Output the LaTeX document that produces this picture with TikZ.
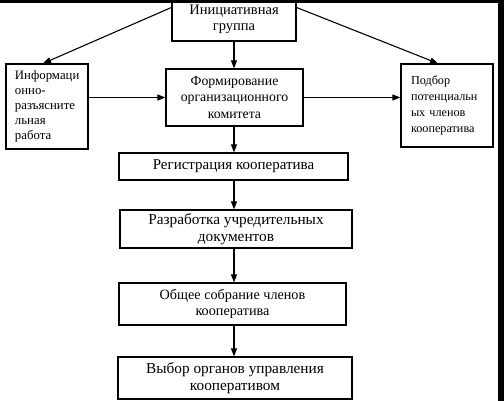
\documentclass[tikz,border=0pt]{standalone}
\usepackage{fontspec}
\setmainfont{Liberation Serif}
\usetikzlibrary{arrows.meta,calc}
\begin{document}
\begin{tikzpicture}[x=1pt,y=-1pt,
  box/.style={draw,line width=1.1pt,rectangle,inner sep=0pt,align=center},
  sidebox/.style={draw,line width=1.1pt,rectangle,inner sep=0pt,align=left,font=\fontsize{12.8}{14.8}\selectfont},
  arr/.style={line width=1.1pt,-{Triangle[length=8pt,width=6pt]}}]
\useasboundingbox (0,0) rectangle (504,401);
\node[box,minimum width=124pt,minimum height=43pt,font=\fontsize{14.5}{16}\selectfont] (top) at (234,19.5) {Инициативная\\группа};
\node[sidebox,minimum width=82pt,minimum height=85pt,text width=64pt] (info) at (47,106.5) {Информаци\\онно-\\разъясните\\льная\\работа};
\node[box,minimum width=137pt,minimum height=57pt,font=\fontsize{13.8}{16.2}\selectfont] (form) at (234.5,97.5) {Формирование\\организационного\\комитета};
\node[sidebox,minimum width=92pt,minimum height=83pt,text width=72pt,font=\fontsize{12.2}{16}\selectfont] (podb) at (447,105.5) {Подбор\\потенциальн\\ых членов\\кооператива};
\node[box,minimum width=229pt,minimum height=27pt,font=\fontsize{15}{17}\selectfont] (reg) at (233.5,166.5) {Регистрация кооператива};
\node[box,minimum width=232pt,minimum height=38pt,font=\fontsize{15.3}{17}\selectfont] (razr) at (236,229) {Разработка учредительных\\документов};
\node[box,minimum width=227pt,minimum height=42pt,font=\fontsize{14.2}{15.5}\selectfont] (obsch) at (232.5,304) {Общее собрание членов\\кооператива};
\node[box,minimum width=234pt,minimum height=42pt,font=\fontsize{15.3}{16.5}\selectfont] (vybor) at (235,378) {Выбор органов управления\\кооперативом};
\draw[arr] (top.south) -- (top.south |- form.north);
\draw[arr] (form.south -| top.south) -- (reg.north -| top.south);
\draw[arr] (reg.south -| top.south) -- (razr.north -| top.south);
\draw[arr] (razr.south -| top.south) -- (obsch.north -| top.south);
\draw[arr] (obsch.south -| top.south) -- (vybor.north -| top.south);
\draw[arr] ($(top.north west)+(0,10)$) -- ($(info.north)+(-4,0)$);
\draw[arr] ($(top.north east)+(0,10)$) -- ($(podb.north)+(-9,0)$);
\draw[arr] (info.east |- form.west) -- (form.west);
\draw[arr] (form.east) -- (form.east -| podb.west);
\fill[black] (0,0) rectangle (504,3);
\fill[black] (497.5,0) rectangle (504,401);
\end{tikzpicture}
\end{document}
